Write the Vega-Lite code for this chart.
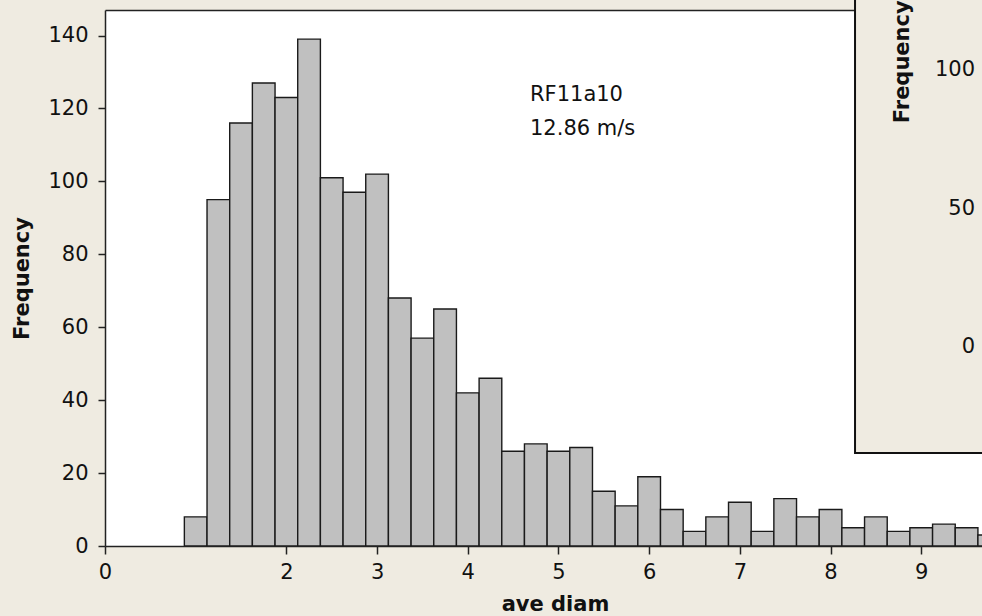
{
  "$schema": "https://vega.github.io/schema/vega-lite/v6.json",
  "width": 877,
  "height": 536,
  "autosize": "none",
  "padding": {"left": 105, "top": 10, "right": 0, "bottom": 70},
  "background": "#EFEBE1",
  "config": {
    "font": "DejaVu Sans",
    "view": {"stroke": null, "fill": "white"},
    "scale": {"continuousPadding": 0}
  },
  "datasets": {
    "bins": [
      {"lo": 0.875, "hi": 1.125, "n": 8},
      {"lo": 1.125, "hi": 1.375, "n": 95},
      {"lo": 1.375, "hi": 1.625, "n": 116},
      {"lo": 1.625, "hi": 1.875, "n": 127},
      {"lo": 1.875, "hi": 2.125, "n": 123},
      {"lo": 2.125, "hi": 2.375, "n": 139},
      {"lo": 2.375, "hi": 2.625, "n": 101},
      {"lo": 2.625, "hi": 2.875, "n": 97},
      {"lo": 2.875, "hi": 3.125, "n": 102},
      {"lo": 3.125, "hi": 3.375, "n": 68},
      {"lo": 3.375, "hi": 3.625, "n": 57},
      {"lo": 3.625, "hi": 3.875, "n": 65},
      {"lo": 3.875, "hi": 4.125, "n": 42},
      {"lo": 4.125, "hi": 4.375, "n": 46},
      {"lo": 4.375, "hi": 4.625, "n": 26},
      {"lo": 4.625, "hi": 4.875, "n": 28},
      {"lo": 4.875, "hi": 5.125, "n": 26},
      {"lo": 5.125, "hi": 5.375, "n": 27},
      {"lo": 5.375, "hi": 5.625, "n": 15},
      {"lo": 5.625, "hi": 5.875, "n": 11},
      {"lo": 5.875, "hi": 6.125, "n": 19},
      {"lo": 6.125, "hi": 6.375, "n": 10},
      {"lo": 6.375, "hi": 6.625, "n": 4},
      {"lo": 6.625, "hi": 6.875, "n": 8},
      {"lo": 6.875, "hi": 7.125, "n": 12},
      {"lo": 7.125, "hi": 7.375, "n": 4},
      {"lo": 7.375, "hi": 7.625, "n": 13},
      {"lo": 7.625, "hi": 7.875, "n": 8},
      {"lo": 7.875, "hi": 8.125, "n": 10},
      {"lo": 8.125, "hi": 8.375, "n": 5},
      {"lo": 8.375, "hi": 8.625, "n": 8},
      {"lo": 8.625, "hi": 8.875, "n": 4},
      {"lo": 8.875, "hi": 9.125, "n": 5},
      {"lo": 9.125, "hi": 9.375, "n": 6},
      {"lo": 9.375, "hi": 9.625, "n": 5},
      {"lo": 9.625, "hi": 9.875, "n": 3}
    ],
    "inset": [{"v": 100}, {"v": 50}, {"v": 0}]
  },
  "resolve": {
    "scale": {"y": "independent"},
    "axis": {"x": "independent", "y": "independent"}
  },
  "layer": [
    {
      "data": {"name": "bins"},
      "mark": {"type": "bar", "fill": "#C0C0C0", "stroke": "#1A1A1A", "strokeWidth": 1.4, "clip": true, "orient": "vertical"},
      "encoding": {
        "x": {
          "field": "lo", "type": "quantitative",
          "scale": {"domain": [0, 9.67], "nice": false, "zero": false, "padding": 0},
          "axis": {
            "values": [0, 2, 3, 4, 5, 6, 7, 8, 9],
            "grid": false, "labelFlush": false, "labelOverlap": false,
            "labelFontSize": 21, "labelColor": "#111111", "labelPadding": 7,
            "tickSize": 8, "tickWidth": 1.5, "tickColor": "#222222",
            "domainWidth": 1.5, "domainColor": "#222222",
            "title": "ave diam", "titleFontSize": 21, "titleFontWeight": "bold", "titleColor": "#111111",
            "titleX": 450, "titleY": 64, "titleAlign": "center", "titleBaseline": "alphabetic"
          }
        },
        "x2": {"field": "hi"},
        "y": {
          "field": "n", "type": "quantitative",
          "scale": {"domain": [0, 147], "nice": false, "padding": 0},
          "axis": {
            "values": [0, 20, 40, 60, 80, 100, 120, 140],
            "grid": false,
            "labelFontSize": 21, "labelColor": "#111111", "labelPadding": 10,
            "tickSize": 7, "tickWidth": 1.5, "tickColor": "#222222",
            "domainWidth": 1.5, "domainColor": "#222222",
            "title": "Frequency", "titleFontSize": 21, "titleFontWeight": "bold", "titleColor": "#111111",
            "titleX": -83, "titleY": 268, "titleAngle": 270, "titleAlign": "center", "titleBaseline": "middle"
          }
        },
        "y2": {"datum": 0}
      }
    },
    {
      "data": {"name": "bins"},
      "mark": {"type": "point", "opacity": 0},
      "encoding": {
        "x": {
          "field": "lo", "type": "quantitative",
          "scale": {"domain": [0, 9.67], "nice": false, "zero": false, "padding": 0},
          "axis": {"orient": "top", "labels": false, "ticks": false, "grid": false, "title": null, "domainWidth": 1.5, "domainColor": "#222222"}
        },
        "y": {"field": "n", "type": "quantitative", "scale": {"domain": [0, 147], "nice": false, "padding": 0}, "axis": null}
      }
    },
    {
      "data": {"values": [{"label": ["RF11a10", "12.86 m/s"]}]},
      "mark": {"type": "text", "align": "left", "baseline": "alphabetic", "fontSize": 21, "lineHeight": 34, "color": "#111111"},
      "encoding": {
        "x": {"datum": 4.686, "type": "quantitative", "scale": {"domain": [0, 9.67], "nice": false, "zero": false, "padding": 0}, "axis": null},
        "y": {"datum": 122.1, "type": "quantitative", "scale": {"domain": [0, 147], "nice": false, "padding": 0}, "axis": null},
        "text": {"field": "label"}
      }
    },
    {
      "data": {"values": [{}]},
      "mark": {"type": "rect", "fill": "#EFEBE1", "stroke": "#111111", "strokeWidth": 2},
      "encoding": {
        "x": {"datum": 8.27, "type": "quantitative", "scale": {"domain": [0, 9.67], "nice": false, "zero": false, "padding": 0}, "axis": null},
        "x2": {"datum": 10.5},
        "y": {"datum": 25.5, "type": "quantitative", "scale": {"domain": [0, 147], "nice": false, "padding": 0}, "axis": null},
        "y2": {"datum": 155}
      }
    },
    {
      "data": {"name": "inset"},
      "mark": {"type": "text", "align": "right", "baseline": "middle", "fontSize": 21, "color": "#111111"},
      "encoding": {
        "x": {"datum": 9.593, "type": "quantitative", "scale": {"domain": [0, 9.67], "nice": false, "zero": false, "padding": 0}, "axis": null},
        "y": {"field": "v", "type": "quantitative", "scale": {"domain": [-71.84, 121.66], "nice": false, "zero": false, "padding": 0}, "axis": null},
        "text": {"field": "v", "type": "quantitative"}
      }
    },
    {
      "data": {"values": [{"t": "Frequency"}]},
      "mark": {"type": "text", "align": "center", "baseline": "middle", "angle": 270, "fontSize": 21, "fontWeight": "bold", "color": "#111111"},
      "encoding": {
        "x": {"datum": 8.8, "type": "quantitative", "scale": {"domain": [0, 9.67], "nice": false, "zero": false, "padding": 0}, "axis": null},
        "y": {"datum": 132.8, "type": "quantitative", "scale": {"domain": [0, 147], "nice": false, "padding": 0}, "axis": null},
        "text": {"field": "t"}
      }
    }
  ]
}
